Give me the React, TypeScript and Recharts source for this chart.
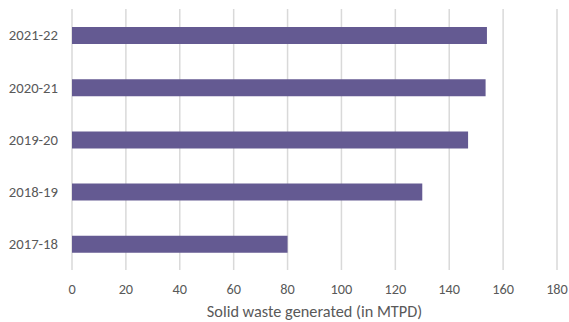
import { Bar, BarChart, CartesianGrid, XAxis, YAxis } from "recharts"

const YEARS = ["2021-22", "2020-21", "2019-20", "2018-19", "2017-18"];
const WASTE = [154, 153.5, 147, 130, 80];
const X_TICKS = [0, 20, 40, 60, 80, 100, 120, 140, 160, 180];

const chartData = YEARS.map((year, i) => ({ year, waste: WASTE[i] }));

const FONT = "Carlito, Lato, 'Open Sans', sans-serif";
const TEXT_COLOR = '#595959';

const App = () => {
    return (
        <div style={{ position: 'absolute', left: 0, top: 0, background: '#fff' }}>
            <BarChart
                width={569}
                height={322}
                data={chartData}
                layout="vertical"
                margin={{ top: 9, right: 12, left: 0, bottom: 0 }}
            >
                <CartesianGrid horizontal={false} vertical={true} stroke="#d9d9d9" strokeWidth={1.5} />
                <XAxis
                    type="number"
                    domain={[0, 180]}
                    ticks={X_TICKS}
                    axisLine={false}
                    tickLine={false}
                    tickSize={0}
                    tickMargin={14}
                    height={52}
                    interval={0}
                    tick={{ fill: TEXT_COLOR, fontSize: 14.3, fontFamily: FONT }}
                    label={{
                        value: "Solid waste generated (in MTPD)",
                        position: "insideBottom",
                        offset: 5,
                        fill: TEXT_COLOR,
                        fontSize: 16.3,
                        fontFamily: FONT,
                    }}
                />
                <YAxis
                    type="category"
                    dataKey="year"
                    width={72}
                    axisLine={false}
                    tickLine={false}
                    tickSize={0}
                    tickMargin={14}
                    interval={0}
                    tick={{ fill: TEXT_COLOR, fontSize: 14.7, fontFamily: FONT }}
                />
                <Bar dataKey="waste" fill="#645a92" barSize={17} isAnimationActive={false} />
            </BarChart>
        </div>
    );
}

export default App;
